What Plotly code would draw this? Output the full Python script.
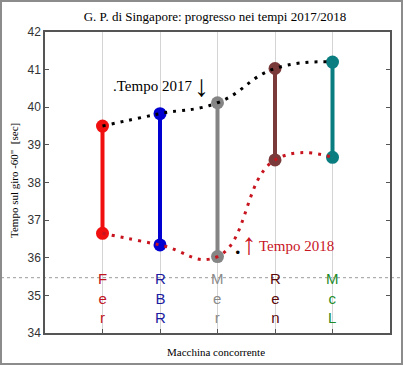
import plotly.graph_objects as go

teams = ["Fer", "RBR", "Mer", "Ren", "McL"]
xpos = [1, 2, 3, 4, 5]
t2017 = [39.50, 39.83, 40.12, 41.03, 41.20]
t2018 = [36.65, 36.34, 36.03, 38.60, 38.67]
team_colors = ["#f01010", "#0000d0", "#858585", "#7a3a3a", "#0a7d80"]
label_colors = ["#c0141e", "#1c1ca0", "#8a8a8a", "#5a0a0a", "#1d8a2a"]
ref_line = 35.47

W, H = 403, 365
L, R, T, B = 45, 13, 32, 32
pw, ph = W - L - R, H - T - B

def px2paperx(p):
    return (p - L) / pw

def px2papery(p):
    return (H - B - p) / ph

SERIF = "Liberation Serif, Times New Roman, serif"
SANS = "Liberation Sans, Arial, sans-serif"
RED18 = "#c8141e"

fig = go.Figure()

for i, t in enumerate(teams):
    fig.add_trace(go.Scatter(
        x=[xpos[i], xpos[i]], y=[t2017[i], t2018[i]],
        mode="lines+markers",
        line=dict(color=team_colors[i], width=4),
        marker=dict(color=team_colors[i], size=13),
        showlegend=False, hoverinfo="skip"))

fig.add_trace(go.Scatter(
    x=xpos, y=t2017, mode="lines",
    line=dict(color="black", width=3, dash="3px,6px", shape="spline", smoothing=1.3),
    showlegend=False, hoverinfo="skip"))
fig.add_trace(go.Scatter(
    x=xpos, y=t2018, mode="lines",
    line=dict(color=RED18, width=3, dash="3px,6px", shape="spline", smoothing=1.3),
    showlegend=False, hoverinfo="skip"))

annotations = []
for i, t in enumerate(teams):
    annotations.append(dict(
        x=xpos[i], y=34.93, xref="x", yref="y",
        text="<br>".join(list(t)), showarrow=False,
        font=dict(family=SANS, size=15, color=label_colors[i]),
        xanchor="center", yanchor="middle", align="center"))

# "Tempo 2017" label and arrow
annotations.append(dict(x=1.87, y=40.56, xref="x", yref="y",
                        text=".Tempo 2017", showarrow=False,
                        font=dict(family=SERIF, size=15, color="black"),
                        xanchor="center", yanchor="middle"))
annotations.append(dict(x=2.73, y=40.59, xref="x", yref="y",
                        text="\u2193", showarrow=False,
                        font=dict(family=SERIF, size=30, color="black"),
                        xanchor="center", yanchor="middle"))
# "Tempo 2018" label and arrow
annotations.append(dict(x=4.37, y=36.31, xref="x", yref="y",
                        text="Tempo 2018", showarrow=False,
                        font=dict(family=SERIF, size=15, color=RED18),
                        xanchor="center", yanchor="middle"))
annotations.append(dict(x=3.49, y=36.39, xref="x", yref="y",
                        text="<span style='color:black'>.</span>\u2191", showarrow=False,
                        font=dict(family=SERIF, size=30, color=RED18),
                        xanchor="center", yanchor="middle"))

annotations.append(dict(x=px2paperx(14), y=px2papery(181), xref="paper", yref="paper",
                        text="Tempo sul giro -60\"  [sec]", showarrow=False, textangle=-90,
                        font=dict(family=SERIF, size=11, color="black"),
                        xanchor="center", yanchor="middle"))
annotations.append(dict(x=px2paperx(216), y=px2papery(352), xref="paper", yref="paper",
                        text="Macchina concorrente", showarrow=False,
                        font=dict(family=SERIF, size=11, color="black"),
                        xanchor="center", yanchor="middle"))

shapes = [
    dict(type="line", xref="paper", yref="y",
         x0=px2paperx(1), x1=px2paperx(402), y0=ref_line, y1=ref_line,
         line=dict(color="#9a9a9a", width=1, dash="3px,3px"), layer="below"),
    dict(type="rect", xref="paper", yref="paper",
         x0=px2paperx(1), x1=px2paperx(402), y0=px2papery(364), y1=px2papery(1),
         line=dict(color="#8c8c8c", width=2)),
]

fig.update_layout(
    width=W, height=H,
    margin=dict(l=L, r=R, t=T, b=B),
    paper_bgcolor="white", plot_bgcolor="white",
    title=dict(text="G. P. di Singapore: progresso nei tempi 2017/2018",
               x=215 / W, xanchor="center",
               y=1 - 16 / H, yanchor="middle", yref="container",
               font=dict(family=SERIF, size=13, color="black")),
    annotations=annotations, shapes=shapes,
    xaxis=dict(range=[0, 6], tickvals=xpos, ticktext=[""] * 5,
               ticks="inside", ticklen=4, tickcolor="#555",
               showgrid=True, gridcolor="#d4d4d4", gridwidth=1,
               showline=True, linecolor="#555", linewidth=1.5, mirror=True,
               zeroline=False, fixedrange=True),
    yaxis=dict(range=[34, 42], tickvals=list(range(34, 43)),
               ticks="inside", ticklen=4, tickcolor="#555",
               showgrid=False, showline=True, linecolor="#555", linewidth=1.5,
               mirror="ticks", zeroline=False,
               tickfont=dict(family=SANS, size=12, color="#333"),
               fixedrange=True),
)

fig.write_html("out.html", config={"displayModeBar": False},
               post_script="document.body.style.margin='0';document.body.style.overflow='hidden';")
